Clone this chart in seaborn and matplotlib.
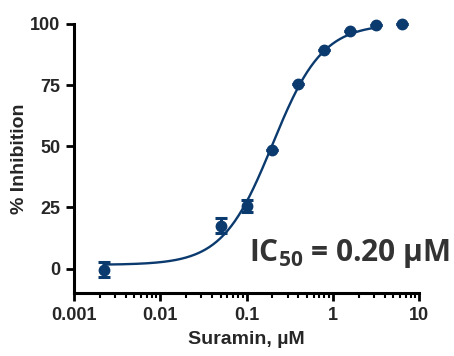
import matplotlib
matplotlib.use("Agg")
import matplotlib.pyplot as plt
import seaborn as sns
import numpy as np
from matplotlib.ticker import LogLocator, FixedLocator, NullFormatter

# Suramin dose-response, values
conc = [0.0022, 0.05, 0.1, 0.2, 0.4, 0.8, 1.6, 3.2, 6.4]       # uM
inhib = [-0.5, 17.5, 25.5, 48.5, 75.5, 89.3, 97.0, 99.6, 100.0]  # %
err = [3.0, 3.0, 2.5, 0.0, 0.0, 0.0, 0.0, 0.0, 0.0]

# 4-parameter logistic fit (as drawn in the reference)
fit_bottom, fit_top, fit_ic50, fit_hill = 1.5, 100.0, 0.20, 1.5
fit_range = [0.0022, 3.2]

xticks = [0.001, 0.01, 0.1, 1, 10]
xtick_labels = ["0.001", "0.01", "0.1", "1", "10"]
yticks = [0, 25, 50, 75, 100]

blue = "#0b3a6e"

sns.set_theme(style="ticks")
plt.rcParams["font.family"] = ["Liberation Sans Narrow", "Liberation Sans", "DejaVu Sans"]

fig = plt.figure(figsize=(4.54, 3.56), dpi=100)
ax = fig.add_axes([0.163, 0.177, 0.76, 0.756])

xfit = np.logspace(np.log10(fit_range[0]), np.log10(fit_range[1]), 300)
yfit = fit_bottom + (fit_top - fit_bottom) / (1 + (fit_ic50 / xfit) ** fit_hill)
sns.lineplot(x=xfit, y=yfit, ax=ax, color=blue, lw=1.7, clip_on=False)

ax.errorbar(conc, inhib, yerr=err, fmt="o", color=blue, ms=7.5,
            elinewidth=2.2, capsize=4, capthick=2.2, clip_on=False, zorder=3)

ax.set_xscale("log")
ax.set_xlim(0.001, 10)
ax.set_ylim(-10, 100)
ax.xaxis.set_major_locator(FixedLocator(xticks))
ax.set_xticklabels(xtick_labels)
ax.xaxis.set_minor_locator(LogLocator(base=10, subs=np.arange(2, 10)))
ax.xaxis.set_minor_formatter(NullFormatter())
ax.set_yticks(yticks)

for s in ["top", "right"]:
    ax.spines[s].set_visible(False)
for s in ["left", "bottom"]:
    ax.spines[s].set_linewidth(2.2)
    ax.spines[s].set_color("black")

ax.tick_params(axis="both", which="major", length=6, width=2, color="black",
               labelsize=13, pad=4)
ax.tick_params(axis="x", which="minor", length=3.5, width=1.5, color="black")
for lab in ax.get_xticklabels() + ax.get_yticklabels():
    lab.set_fontweight("bold")

ax.set_xlabel("Suramin, \u00b5M", fontsize=14, fontweight="bold", labelpad=5)
ax.set_ylabel("% Inhibition", fontsize=14, fontweight="bold", labelpad=1)

fig.text(0.991, 0.267, "IC$_{\\mathregular{50}}$ = 0.20 \u00b5M",
         ha="right", va="baseline", fontsize=21.5, color="#333333",
         family=["Open Sans", "DejaVu Sans"], fontweight="bold")

fig.savefig("out.png", dpi=100)
